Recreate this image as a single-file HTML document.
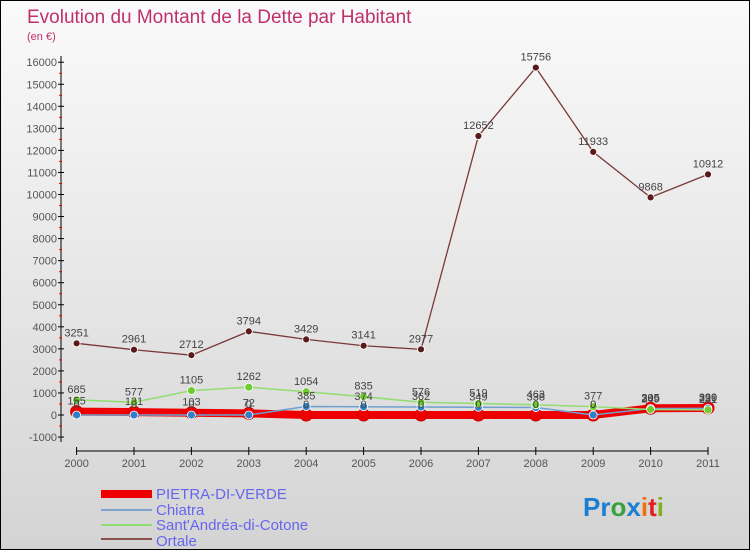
<!DOCTYPE html>
<html><head><meta charset="utf-8"><style>
body{margin:0;}
#wrap{width:750px;height:550px;position:relative;box-sizing:border-box;border:1px solid #000;background:linear-gradient(#fafafa,#d4d4d4);font-family:"Liberation Sans",sans-serif;overflow:hidden}
svg{position:absolute;left:0;top:0}
</style></head><body>
<div id="wrap">
<svg id="svg" width="750" height="550">
<text x="26" y="22" font-size="19" fill="#c0306a">Evolution du Montant de la Dette par Habitant</text>
<text x="26" y="39" font-size="11" fill="#c0306a">(en €)</text>
<g id="axes"></g><g id="series"></g><g id="labels"></g>
<g>
<rect x="100" y="489" width="51" height="8" fill="#e00"/>
<line x1="100" y1="509" x2="151" y2="509" stroke="#7ea6cc" stroke-width="2"/>
<line x1="100" y1="524" x2="151" y2="524" stroke="#90dd70" stroke-width="2"/>
<line x1="100" y1="538" x2="151" y2="538" stroke="#8a5050" stroke-width="2"/>
<text x="155" y="498" font-size="15" fill="#6666ee">PIETRA-DI-VERDE</text>
<text x="155" y="514" font-size="15" fill="#6666ee">Chiatra</text>
<text x="155" y="529" font-size="15" fill="#6666ee">Sant'Andréa-di-Cotone</text>
<text x="155" y="545" font-size="15" fill="#6666ee">Ortale</text>
</g>
<text x="582" y="515" font-size="26" font-weight="bold"><tspan fill="#1a7fd0">Pr</tspan><tspan fill="#3aa040">o</tspan><tspan fill="#1a7fd0">x</tspan><tspan fill="#f07010">i</tspan><tspan fill="#e02020">t</tspan><tspan fill="#80b020">i</tspan></text>
</svg>
</div>
<script>
const years=["2000","2001","2002","2003","2004","2005","2006","2007","2008","2009","2010","2011"];
const pietra=[155,131,103,72,0,0,0,0,0,0,305,320];
const chiatra=[0,0,0,0,385,374,362,349,338,0,295,299];
const santAndrea=[685,577,1105,1262,1054,835,576,519,463,377,249,231];
const ortale=[3251,2961,2712,3794,3429,3141,2977,12652,15756,11933,9868,10912];
const yTicks=[-1000,0,1000,2000,3000,4000,5000,6000,7000,8000,9000,10000,11000,12000,13000,14000,15000,16000];
const NS="http://www.w3.org/2000/svg";
const xs=i=>75.6+i*(707-75.6)/11;
const ys=v=>414-v*0.02205;
function mk(t,a,p){const e=document.createElementNS(NS,t);for(const k in a)e.setAttribute(k,a[k]);p.appendChild(e);return e;}
const ax=document.getElementById('axes'),se=document.getElementById('series'),lb=document.getElementById('labels');
let e=mk('line',{x1:60,y1:55,x2:60,y2:441,stroke:'#000'},ax);

e=mk('line',{x1:75,y1:450,x2:707,y2:450,stroke:'#000'},ax);

yTicks.forEach(v=>{const y=ys(v);
 mk('line',{x1:57,y1:y,x2:63,y2:y,stroke:'#000'},ax);
 if(v<16000)mk('line',{x1:58,y1:y-11,x2:61,y2:y-11,stroke:'#e00'},ax);
 const t=mk('text',{x:56,y:y+4,'font-size':11,fill:'#555','text-anchor':'end'},ax);t.textContent=v;
 });
years.forEach((yr,i)=>{const x=xs(i);mk('line',{x1:x,y1:446,x2:x,y2:454,stroke:'#000'},ax);
 const t=mk('text',{x:x,y:466,'font-size':11,fill:'#555','text-anchor':'middle'},ax);t.textContent=yr;
 });
function draw(d,name,color,w,r,dot){
 const p=mk('polyline',{points:d.map((v,i)=>xs(i)+','+ys(v)).join(' '),fill:'none',stroke:color,'stroke-width':w},se);
 
 d.forEach((v,i)=>{const c=mk('circle',{cx:xs(i),cy:ys(v),r:r,fill:dot,stroke:color==='#e00'?'#c00':'#fff','stroke-width':color==='#e00'?1:0.8},se);
  
  const t=mk('text',{x:xs(i),y:ys(v)-7,'font-size':11,fill:'#444','text-anchor':'middle'},lb);t.textContent=v;
  });
}
draw(pietra,'pietra','#e00',8,6,'#e00');
draw(chiatra,'chiatra','#6fa0d0',1.5,4,'#2f80c8');
draw(santAndrea,'sant-andrea','#90dd70',1.5,4,'#70cc30');
draw(ortale,'ortale','#7a3838',1.3,3.5,'#5a1a1a');
</script>
</body></html>
